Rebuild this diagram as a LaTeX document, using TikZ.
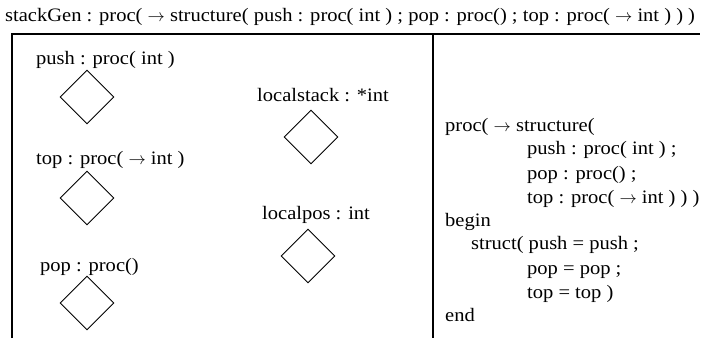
\documentclass[tikz,border=0pt]{standalone}
\usepackage{fontspec}
\setmainfont{Liberation Serif}[FakeStretch=1.08]
\usetikzlibrary{shapes.geometric}
\newcommand{\rarr}{\(\rightarrow\)}
\tikzset{
  lbl/.style={anchor=base west, inner sep=0pt, font=\fontsize{19}{23}\selectfont},
  slot/.style={draw, shape=diamond, aspect=1, minimum width=54pt, minimum height=54pt, inner sep=0pt, line width=0.9pt},
  frame/.style={line width=1.4pt}
}
\begin{document}
\begin{tikzpicture}[x=1pt,y=-1pt]
\useasboundingbox (0,0) rectangle (705,338);
% title
\node[lbl] (title) at (5,21) {stackGen : proc( \rarr{} structure( push : proc( int ) ; pop : proc() ; top : proc( \rarr{} int ) ) )};
% frame
\coordinate (tl) at (12,34);
\coordinate (tr) at (700,34);
\coordinate (bl) at (12,338);
\coordinate (mt) at (433,34);
\coordinate (mb) at (433,338);
\draw[frame] (bl) -- (tl) -- (tr);
\draw[frame] (mt) -- (mb);
% left panel
\node[lbl] (lpush) at (36,64) {push : proc( int )};
\node[slot] (dpush) at (87,97) {};
\node[lbl] (ltop) at (36,164) {top : proc( \rarr{} int )};
\node[slot] (dtop) at (87,198) {};
\node[lbl] (lpop) at (40,271) {pop : proc()};
\node[slot] (dpop) at (87,303) {};
\node[lbl] (lls) at (257,101) {localstack : *int};
\node[slot] (dls) at (311,137) {};
\node[lbl] (llp) at (262,219) {localpos : int};
\node[slot] (dlp) at (308,256) {};
% right panel
\node[lbl] (r1) at (445,131) {proc( \rarr{} structure(};
\node[lbl] (r2) at (527,154) {push : proc( int ) ;};
\node[lbl] (r3) at (527,179) {pop : proc() ;};
\node[lbl] (r4) at (527,203) {top : proc( \rarr{} int ) ) )};
\node[lbl] (r5) at (445,226) {begin};
\node[lbl] (r6) at (471,249) {struct( push = push ;};
\node[lbl] (r7) at (527,274) {pop = pop ;};
\node[lbl] (r8) at (527,298) {top = top )};
\node[lbl] (r9) at (445,321) {end};
\end{tikzpicture}
\end{document}
